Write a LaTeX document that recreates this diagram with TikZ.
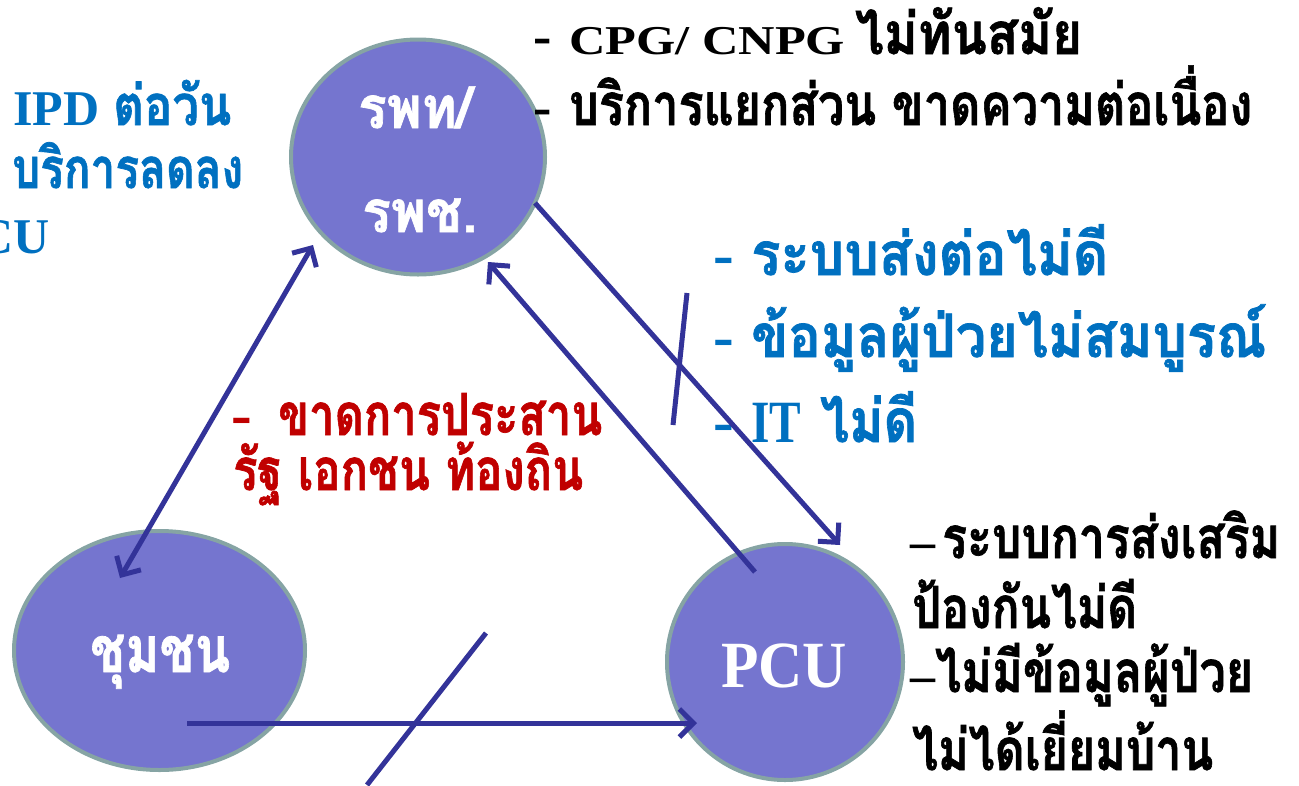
\documentclass[tikz,border=0pt]{standalone}
\usepackage{fontspec}
\usepackage{graphicx}
\setmainfont{Liberation Serif}
\newfontfamily\thf[Script=Thai, BoldFeatures={FakeBold=1.2}]{Loma}
\usetikzlibrary{arrows.meta,shapes.geometric}
\definecolor{cfill}{RGB}{117,117,207}
\definecolor{cedge}{RGB}{134,164,164}
\definecolor{arr}{RGB}{51,51,153}
\definecolor{tblue}{RGB}{0,112,192}
\definecolor{tred}{RGB}{192,0,0}
\newcommand\fitto[2]{\resizebox{#1}{\height}{#2}}
\newcommand\TT[2]{{\thf\fontsize{#1}{#1}\selectfont #2}}
\newcommand\LL[2]{{\fontsize{#1}{#1}\selectfont #2}}
\begin{document}
\begin{tikzpicture}[x=1pt,y=-1pt,
  blob/.style={ellipse, draw=cedge, line width=4pt, fill=cfill, inner sep=0},
  link/.style={draw=arr, line width=5pt, -{Straight Barb[length=14pt,width=28pt]}},
  bilink/.style={draw=arr, line width=5pt, {Straight Barb[length=14pt,width=28pt]}-{Straight Barb[length=14pt,width=28pt]}},
  bar/.style={draw=arr, line width=5pt},
  txt/.style={anchor=base west, inner sep=0, font=\bfseries},
  ctxt/.style={txt, text=white},
]
\useasboundingbox (0,0) rectangle (1299,785);
% circles
\node[blob, minimum width=254pt, minimum height=235pt] (hosp) at (418,157) {};
\node[blob, minimum width=291pt, minimum height=239pt] (comm) at (159.5,650.5) {};
\node[blob, minimum width=236pt, minimum height=236pt] (pcu) at (785,662) {};
% circle labels
\node[ctxt] (hospa) at (358,128) {\fitto{114pt}{\TT{58}{รพท/}}};
\node[ctxt] (hospb) at (362,232) {\fitto{115pt}{\TT{58}{รพช.}}};
\node[ctxt] (comml) at (90,672) {\fitto{140pt}{\TT{64}{ชุมชน}}};
\node[ctxt] (pcul) at (721,687) {\fitto{126pt}{\LL{66}{PCU}}};
% top-left blue text (cut by the left edge)
\node[txt, text=tblue] (tl1) at (13,125) {\LL{50}{IPD}\hspace{14pt}\fitto{118pt}{\TT{56}{ต่อวัน}}};
\node[txt, text=tblue] (tl2) at (12,188) {\fitto{231pt}{\TT{56}{บริการลดลง}}};
\node[txt, text=tblue, anchor=base east] (tl3) at (50,253) {\LL{50}{CU}};
% top-right black text
\node[txt] (tr1) at (533,54) {\LL{55}{-}\hspace{17.7pt}\fitto{276pt}{\LL{41}{CPG/ CNPG}}\hspace{10pt}\fitto{227pt}{\TT{58}{ไม่ทันสมัย}}};
\node[txt] (tr2) at (533,125) {\LL{55}{-}\hspace{17.7pt}\fitto{683pt}{\TT{58}{บริการแยกส่วน ขาดความต่อเนื่อง}}};
% middle blue text
\node[txt, text=tblue] (mb1) at (713,275) {\LL{62}{-}\hspace{17.4pt}\fitto{357pt}{\TT{60}{ระบบส่งต่อไม่ดี}}};
\node[txt, text=tblue] (mb2) at (713,357) {\LL{62}{-}\hspace{17.4pt}\fitto{515pt}{\TT{60}{ข้อมูลผู้ป่วยไม่สมบูรณ์}}};
\node[txt, text=tblue] (mb3) at (713,442) {\LL{62}{-}\hspace{17.4pt}\fitto{50pt}{\LL{60}{IT}}\hspace{19pt}\fitto{97pt}{\TT{60}{ไม่ดี}}};
% red text
\node[txt, text=tred] (rd1) at (231,435) {\LL{62}{-}\hspace{26.4pt}\fitto{324pt}{\TT{58}{ขาดการประสาน}}};
\node[txt, text=tred] (rd2) at (233,490) {\fitto{350pt}{\TT{58}{รัฐ เอกชน ท้องถิน}}};
% bottom-right black text
\node[txt] (br1) at (910,558) {\LL{50}{–}\hspace{7pt}\fitto{338pt}{\TT{58}{ระบบการส่งเสริม}}};
\node[txt] (br2) at (912,628) {\fitto{225pt}{\TT{58}{ป้องกันไม่ดี}}};
\node[txt] (br3) at (910,692) {\LL{50}{–}\fitto{318pt}{\TT{58}{ไม่มีข้อมูลผู้ป่วย}}};
\node[txt] (br4) at (912,770) {\fitto{301pt}{\TT{58}{ไม่ได้เยี่ยมบ้าน}}};
% connector end points
\coordinate (c1a) at (120,578);
\coordinate (c1b) at (313,245);
\coordinate (c2a) at (755,572);
\coordinate (c2b) at (488,262);
\coordinate (c3a) at (535,203);
\coordinate (c3b) at (840,545);
\coordinate (c4a) at (187,723);
\coordinate (c4b) at (697,723);
\coordinate (b1a) at (687,293);
\coordinate (b1b) at (673,425);
\coordinate (b2a) at (367,785);
\coordinate (b2b) at (486,633);
\draw[bilink] (c1a) -- (c1b);
\draw[link] (c2a) -- (c2b);
\draw[link] (c3a) -- (c3b);
\draw[link] (c4a) -- (c4b);
\draw[bar] (b1a) -- (b1b);
\draw[bar] (b2a) -- (b2b);
\end{tikzpicture}
\end{document}
